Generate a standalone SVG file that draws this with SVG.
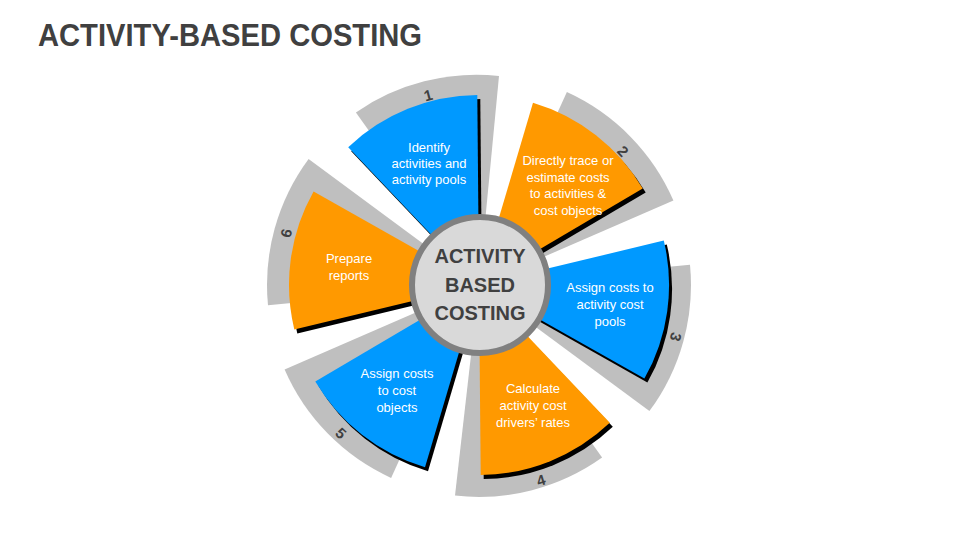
<svg xmlns="http://www.w3.org/2000/svg" xmlns:xlink="http://www.w3.org/1999/xlink" width="960" height="540" viewBox="0 0 960 540">
<style>
.band{fill:#BFBFBF}
.shadow{fill:#000000}
.blue{fill:#0099FF}
.orange{fill:#FF9900}
.lbl{font-family:"Liberation Sans",Arial,sans-serif;font-size:13px;fill:#FFFFFF;text-anchor:middle}
.num{font-family:"Liberation Sans",Arial,sans-serif;font-size:15px;font-weight:bold;fill:#404040;text-anchor:middle;dominant-baseline:central}
.title{font-family:"Liberation Sans",Arial,sans-serif;font-size:32px;font-weight:bold;fill:#404040}
.hub{font-family:"Liberation Sans",Arial,sans-serif;font-size:20px;font-weight:bold;fill:#404040;text-anchor:middle}
</style>
<defs>
<path id="s1" d="M479,285 L348.2,147.2 A190,190 0 0 1 477.3,95 Z"/>
<path id="s2" d="M479,285 L533,102.8 A190,190 0 0 1 642.7,188.6 Z"/>
<path id="s3" d="M479,285 L663.8,240.6 A190,190 0 0 1 644.4,378.6 Z"/>
<path id="s4" d="M479,285 L609.8,422.8 A190,190 0 0 1 480.7,475 Z"/>
<path id="s5" d="M479,285 L425,467.2 A190,190 0 0 1 315.3,381.4 Z"/>
<path id="s6" d="M479,285 L294.3,329.4 A190,190 0 0 1 313.6,191.4 Z"/>
</defs>
<rect width="960" height="540" fill="#FFFFFF"/>
<text class="title" x="38" y="46" textLength="384" lengthAdjust="spacingAndGlyphs">ACTIVITY-BASED COSTING</text>
<g id="connectors"/>
<g id="node1">
<path class="band" d="M479,285 L355.9,112.4 A212,212 0 0 1 499,76 Z"/>
<use xlink:href="#s1" class="shadow" transform="translate(3,4)"/>
<use xlink:href="#s1" class="blue"/>
<text class="lbl" x="429" y="152">Identify</text>
<text class="lbl" x="429" y="168">activities and</text>
<text class="lbl" x="429" y="184">activity pools</text>
<text class="num" x="428" y="95" transform="rotate(-15 428 95)">1</text>
</g>
<g id="node2">
<path class="band" d="M479,285 L566.9,92.1 A212,212 0 0 1 673.4,200.5 Z"/>
<use xlink:href="#s2" class="shadow" transform="translate(3,4)"/>
<use xlink:href="#s2" class="orange"/>
<text class="lbl" x="568" y="165">Directly trace or</text>
<text class="lbl" x="568" y="182">estimate costs</text>
<text class="lbl" x="568" y="198">to activities &amp;</text>
<text class="lbl" x="568" y="215">cost objects</text>
<text class="num" x="623" y="151" transform="rotate(47 623 151)">2</text>
</g>
<g id="node3">
<path class="band" d="M479,285 L690,264.7 A212,212 0 0 1 649.4,411.1 Z"/>
<use xlink:href="#s3" class="shadow" transform="translate(3,4)"/>
<use xlink:href="#s3" class="blue"/>
<text class="lbl" x="610" y="292">Assign costs to</text>
<text class="lbl" x="610" y="309">activity cost</text>
<text class="lbl" x="610" y="326">pools</text>
<text class="num" x="676" y="337" transform="rotate(105 676 337)">3</text>
</g>
<g id="node4">
<path class="band" d="M479,285 L602.1,457.6 A212,212 0 0 1 455,495.6 Z"/>
<use xlink:href="#s4" class="shadow" transform="translate(3,4)"/>
<use xlink:href="#s4" class="orange"/>
<text class="lbl" x="533" y="393">Calculate</text>
<text class="lbl" x="533" y="410">activity cost</text>
<text class="lbl" x="533" y="427">drivers’ rates</text>
<text class="num" x="541" y="480" transform="rotate(-17 541 480)">4</text>
</g>
<g id="node5">
<path class="band" d="M479,285 L391.1,477.9 A212,212 0 0 1 284.6,369.5 Z"/>
<use xlink:href="#s5" class="shadow" transform="translate(3,4)"/>
<use xlink:href="#s5" class="blue"/>
<text class="lbl" x="397" y="378">Assign costs</text>
<text class="lbl" x="397" y="395">to cost</text>
<text class="lbl" x="397" y="412">objects</text>
<text class="num" x="341" y="433" transform="rotate(43 341 433)">5</text>
</g>
<g id="node6">
<path class="band" d="M479,285 L268,305.3 A212,212 0 0 1 308.6,158.9 Z"/>
<use xlink:href="#s6" class="shadow" transform="translate(3,4)"/>
<use xlink:href="#s6" class="orange"/>
<text class="lbl" x="349" y="263">Prepare</text>
<text class="lbl" x="349" y="280">reports</text>
<text class="num" x="286" y="233" transform="rotate(-75 286 233)">6</text>
</g>
<g id="hub">
<circle cx="480" cy="285" r="68" fill="#D9D9D9" stroke="#808080" stroke-width="6"/>
<text class="hub" x="480" y="263">ACTIVITY</text>
<text class="hub" x="480" y="292">BASED</text>
<text class="hub" x="480" y="320">COSTING</text>
</g>
</svg>
